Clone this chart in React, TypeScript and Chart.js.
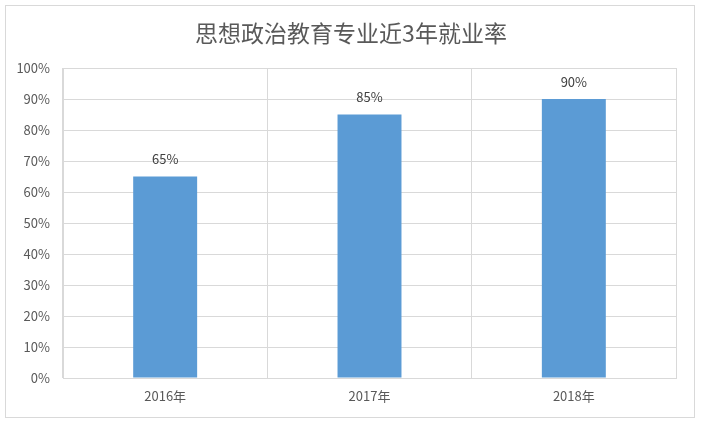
import React, { useEffect, useRef } from "react";
import { Chart, registerables } from "chart.js";

Chart.register(...registerables);

const categories = ["2016年", "2017年", "2018年"];
const rates = [65, 85, 90];
const yTicks = [0, 10, 20, 30, 40, 50, 60, 70, 80, 90, 100];
const titleText = "思想政治教育专业近3年就业率";

const FONT = '"Noto Sans CJK SC", "Noto Sans", sans-serif';

const framePlugin = {
  id: "frame",
  beforeDraw(chart: any) {
    const ctx = chart.ctx;
    ctx.save();
    ctx.fillStyle = "#ffffff";
    ctx.fillRect(0, 0, chart.width, chart.height);
    ctx.strokeStyle = "#d9d9d9";
    ctx.lineWidth = 1;
    ctx.strokeRect(5.5, 5.5, 689, 412);
    ctx.fillStyle = "#595959";
    ctx.font = `23px ${FONT}`;
    ctx.textAlign = "center";
    ctx.textBaseline = "middle";
    ctx.fillText(titleText, 351, 33);
    ctx.restore();
  },
};

const labelPlugin = {
  id: "barLabels",
  afterDatasetsDraw(chart: any) {
    const ctx = chart.ctx;
    const meta = chart.getDatasetMeta(0);
    ctx.save();
    ctx.fillStyle = "#404040";
    ctx.font = `13px ${FONT}`;
    ctx.textAlign = "center";
    ctx.textBaseline = "middle";
    meta.data.forEach((bar: any, i: number) => {
      ctx.fillText(`${rates[i]}%`, bar.x, bar.y - 17);
    });
    ctx.restore();
  },
};

export default function App() {
  const ref = useRef<HTMLCanvasElement>(null);
  useEffect(() => {
    document.body.style.margin = "0";
    const chart = new Chart(ref.current as HTMLCanvasElement, {
      type: "bar",
      data: {
        labels: categories,
        datasets: [
          {
            data: rates,
            backgroundColor: "#5b9bd5",
            borderWidth: 0,
            categoryPercentage: 1,
            barPercentage: 0.313,
          },
        ],
      },
      options: {
        animation: false,
        responsive: false,
        devicePixelRatio: 1,
        layout: { padding: { top: 68, left: 0, right: 26, bottom: 0 } },
        plugins: {
          legend: { display: false },
          title: { display: false },
          tooltip: { enabled: false },
        },
        scales: {
          x: {
            grid: { color: "#d9d9d9", offset: true, drawTicks: false },
            border: { color: "#d9d9d9" },
            ticks: { color: "#595959", font: { family: FONT, size: 13 }, padding: 10 },
            afterFit(scale: any) {
              scale.height = 46;
            },
          },
          y: {
            min: 0,
            max: 100,
            afterBuildTicks(scale: any) {
              scale.ticks = yTicks.map((v) => ({ value: v }));
            },
            grid: { color: "#d9d9d9", drawTicks: false },
            border: { color: "#d9d9d9" },
            ticks: {
              color: "#595959",
              font: { family: FONT, size: 13 },
              padding: 13,
              callback: (v: any) => `${v}%`,
            },
            afterFit(scale: any) {
              scale.width = 63;
            },
          },
        },
      },
      plugins: [framePlugin, labelPlugin],
    });
    return () => chart.destroy();
  }, []);
  return (
    <div style={{ position: "absolute", left: 0, top: 0, width: 702, height: 424 }}>
      <canvas ref={ref} width={702} height={424} style={{ display: "block" }} />
    </div>
  );
}
